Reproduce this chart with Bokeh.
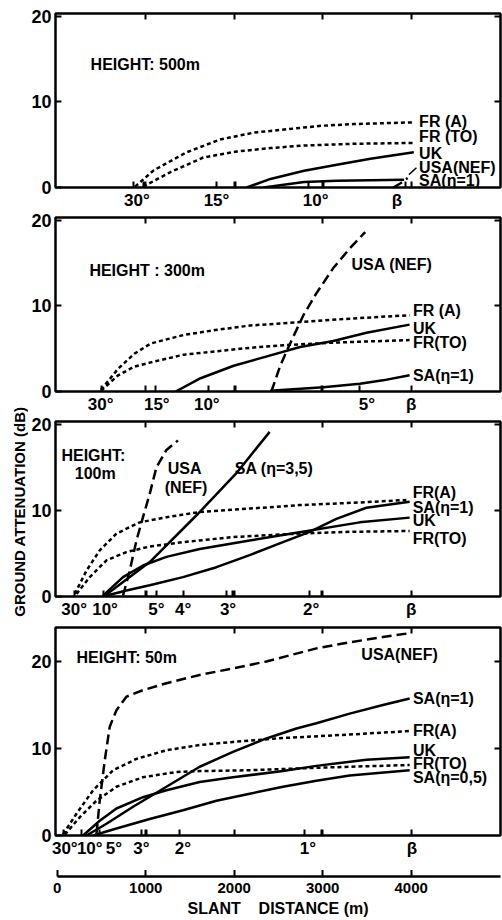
from bokeh.plotting import figure
from bokeh.models import Range1d, LinearAxis, FixedTicker, Label
from bokeh.layouts import column, row
from bokeh.embed import file_html
from bokeh.resources import INLINE

FONT = "Liberation Sans"

# ---------------- data (slant distance in m, ground attenuation in dB) ----------------
# Height 500 m
h500_fra_x = [880, 1090, 1460, 1840, 2220, 2600, 2980, 3350, 4030]
h500_fra_y = [0.1, 2.0, 4.1, 5.6, 6.4, 6.8, 7.2, 7.4, 7.6]
h500_frto_x = [970, 1280, 1650, 2030, 2410, 2790, 3350, 4030]
h500_frto_y = [0.1, 1.8, 3.5, 4.2, 4.6, 4.9, 5.1, 5.2]
h500_uk_x = [2140, 2410, 2790, 3160, 3540, 4030]
h500_uk_y = [0.0, 1.0, 1.95, 2.65, 3.35, 4.1]
h500_sa1_x = [2330, 2790, 3160, 3920]
h500_sa1_y = [0.0, 0.65, 0.8, 0.9]
h500_usa_x = [3800, 3880, 3960]
h500_usa_y = [0.0, 0.5, 1.1]

# Height 300 m
h300_fra_x = [495, 683, 870, 1057, 1432, 1807, 2182, 2745, 3307, 3982]
h300_fra_y = [0.2, 2.6, 4.4, 5.6, 6.6, 7.2, 7.7, 8.1, 8.5, 8.9]
h300_frto_x = [495, 683, 870, 1057, 1432, 1807, 2182, 2557, 3120, 3982]
h300_frto_y = [0.1, 1.85, 2.9, 3.4, 4.3, 4.7, 5.1, 5.4, 5.7, 6.0]
h300_uk_x = [1339, 1620, 1994, 2370, 2745, 3120, 3495, 3982]
h300_uk_y = [0.0, 1.55, 3.0, 4.1, 5.2, 5.9, 6.85, 7.8]
h300_sa1_x = [2407, 3007, 3420, 3682, 3982]
h300_sa1_y = [0.1, 0.5, 0.9, 1.3, 1.9]
h300_usa_x = [2420, 2520, 2632, 2782, 2932, 3120, 3307, 3480]
h300_usa_y = [0.0, 3.0, 5.6, 8.9, 11.5, 14.4, 16.7, 18.6]

# Height 100 m
h100_fra_x = [198, 330, 480, 669, 932, 1234, 1610, 2175, 2740, 3400, 3946]
h100_fra_y = [0.3, 3.0, 5.35, 7.3, 8.6, 9.2, 9.8, 10.2, 10.6, 10.9, 11.2]
h100_frto_x = [217, 367, 556, 782, 1045, 1421, 1986, 2740, 3300, 3983]
h100_frto_y = [0.3, 2.25, 4.2, 5.15, 5.8, 6.3, 6.9, 7.3, 7.5, 7.6]
h100_uk_x = [517, 743, 969, 1234, 1610, 2175, 2703, 3418, 3983]
h100_uk_y = [0.1, 2.25, 3.6, 4.6, 5.5, 6.5, 7.4, 8.6, 9.15]
h100_sa1_x = [517, 782, 1045, 1421, 1799, 2175, 2551, 2853, 3155, 3494, 3983]
h100_sa1_y = [0.0, 0.7, 1.3, 2.25, 3.4, 4.8, 6.3, 7.5, 9.0, 10.3, 11.0]
h100_sa35_x = [537, 1045, 1591, 2025, 2401]
h100_sa35_y = [0.1, 4.0, 9.6, 14.3, 19.1]
h100_usa_x = [743, 819, 895, 969, 1045, 1121, 1234, 1365]
h100_usa_y = [0.1, 3.0, 6.5, 9.2, 11.9, 15.0, 17.0, 18.1]

# Height 50 m
h50_usa_x = [443, 480, 537, 593, 669, 782, 969, 1234, 1610, 1986, 2364, 2703, 2929, 3305, 3681, 3983]
h50_usa_y = [0.2, 4.0, 8.65, 12.5, 14.4, 15.95, 16.7, 17.5, 18.45, 19.2, 20.0, 20.9, 21.5, 22.2, 22.8, 23.25]
h50_fra_x = [66, 217, 405, 631, 895, 1234, 1610, 1986, 2551, 3300, 3983]
h50_fra_y = [0.15, 2.5, 5.2, 7.5, 8.8, 9.8, 10.4, 10.75, 11.2, 11.6, 12.0]
h50_frto_x = [85, 254, 443, 669, 969, 1347, 1610, 2175, 2703, 3300, 3983]
h50_frto_y = [0.1, 2.1, 4.0, 5.6, 6.7, 7.3, 7.4, 7.5, 7.7, 7.9, 8.1]
h50_uk_x = [292, 480, 669, 969, 1234, 1610, 1986, 2551, 2929, 3494, 3983]
h50_uk_y = [0.0, 1.7, 3.1, 4.4, 5.2, 6.15, 6.7, 7.4, 8.0, 8.7, 9.0]
h50_sa1_x = [330, 556, 857, 1234, 1610, 1986, 2364, 2703, 2929, 3305, 3681, 3983]
h50_sa1_y = [0.0, 1.35, 3.3, 5.6, 7.9, 9.6, 11.15, 12.3, 12.9, 14.0, 15.0, 15.75]
h50_sa05_x = [405, 669, 1045, 1421, 1799, 2175, 2551, 2929, 3305, 3983]
h50_sa05_y = [0.0, 0.8, 1.9, 2.9, 4.0, 4.8, 5.6, 6.3, 6.9, 7.5]

# elevation-angle scales (positions in m along slant distance)
h500_angle_ticks = [861, 974, 1804, 2012, 2843, 3012, 3938]
h500_angle_pos = [900, 1800, 2920, 3840]
h500_angle_txt = ["30°", "15°", "10°", "β"]
h300_angle_ticks = [495, 1001, 1114, 1713, 2013, 2989, 3420, 4001]
h300_angle_pos = [490, 1125, 1690, 3500, 4000]
h300_angle_txt = ["30°", "15°", "10°", "5°", "β"]
h100_angle_ticks = [198, 517, 1008, 1121, 1422, 1912, 1986, 2853, 2985, 4009]
h100_angle_pos = [190, 540, 1121, 1422, 1930, 2870, 4000]
h100_angle_txt = ["30°", "10°", "5°", "4°", "3°", "2°", "β"]
h50_angle_ticks = [66, 273, 480, 951, 1008, 1384, 2006, 2797, 2985, 4009]
h50_angle_pos = [85, 367, 640, 951, 1421, 2834, 4009]
h50_angle_txt = ["30°", "10°", "5°", "3°", "2°", "1°", "β"]

# leader stroke from the "USA(NEF)" label to its curve (500 m panel)
h500_leader_x = [3975, 4060]
h500_leader_y = [1.5, 2.3]

distance_ticks = [0, 1000, 2000, 3000, 4000]
db_ticks = [0, 10, 20]

SOLID, SHORT, LONG = "solid", "4 3", "10 5"
X0, X1 = -20, 5010
LW = 2.5

# ---------------- helpers ----------------
def style_axis(ax, size="16px"):
    ax.axis_line_color = None
    ax.major_tick_line_color = "black"
    ax.major_tick_line_width = 2
    ax.minor_tick_line_color = "black"
    ax.minor_tick_line_width = 2
    ax.major_label_text_font = FONT
    ax.major_label_text_font_size = size
    ax.major_label_text_font_style = "bold"
    ax.major_label_text_color = "black"


def tick_only_axis(ticks):
    ax = LinearAxis(ticker=FixedTicker(ticks=ticks))
    ax.axis_line_color = None
    ax.major_tick_line_color = "black"
    ax.major_tick_line_width = 2
    ax.major_tick_in = 6
    ax.major_tick_out = 0
    ax.minor_tick_in = 0
    ax.minor_tick_out = 0
    ax.major_label_text_font_size = "1px"
    ax.major_label_text_color = None
    ax.major_label_standoff = 0
    return ax


def panel(height, top, bottom, y_end, curves, labels, a_ticks, a_pos, a_txt):
    p = figure(width=474, height=height, x_range=Range1d(X0, X1),
               y_range=Range1d(0, y_end), output_backend="svg",
               toolbar_location=None, min_border_left=27, min_border_right=2,
               min_border_top=top, min_border_bottom=bottom)
    p.grid.visible = False
    p.outline_line_color = "black"
    p.outline_line_width = 2.5
    p.outline_line_alpha = 1.0
    p.background_fill_color = "white"
    p.border_fill_color = "white"

    ya = p.yaxis[0]
    ya.ticker = FixedTicker(ticks=db_ticks)
    style_axis(ya, "18px")
    ya.major_tick_in = 6
    ya.major_tick_out = 0
    ya.minor_tick_in = 0
    ya.minor_tick_out = 0
    ya.major_label_standoff = 4

    xa = p.xaxis[0]
    xa.ticker = FixedTicker(ticks=a_pos, minor_ticks=a_ticks + [1000, 2000, 3000, 4000])
    xa.major_label_overrides = {v: t for v, t in zip(a_pos, a_txt)}
    style_axis(xa, "17px")
    xa.major_tick_in = 0
    xa.major_tick_out = 0
    xa.minor_tick_in = 6
    xa.minor_tick_out = 0
    xa.major_label_standoff = 3

    p.add_layout(tick_only_axis([1000, 2000, 3000, 4000]), "above")
    p.add_layout(tick_only_axis([10, 20]), "right")

    for x, y, dash in curves:
        p.line(x, y, line_color="black", line_width=LW, line_dash=dash)

    for x, y, t in labels:
        p.add_layout(Label(x=x, y=y, text=t, text_font=FONT, text_font_size="16px",
                           text_font_style="bold", text_color="black",
                           text_align="left", text_baseline="middle"))
    return p


p1 = panel(212, 13, 22, 20.3,
           [(h500_fra_x, h500_fra_y, SHORT), (h500_frto_x, h500_frto_y, SHORT),
            (h500_uk_x, h500_uk_y, SOLID), (h500_sa1_x, h500_sa1_y, SOLID),
            (h500_usa_x, h500_usa_y, LONG)],
           [(377, 14.3, "HEIGHT: 500m"), (4090, 7.7, "FR (A)"), (4090, 5.9, "FR (TO)"),
            (4090, 4.0, "UK"), (4090, 2.3, "USA(NEF)"), (4090, 0.85, "SA(η=1)")],
           h500_angle_ticks, h500_angle_pos, h500_angle_txt)
p1.line(h500_leader_x, h500_leader_y, line_color="black", line_width=1.5)

p2 = panel(204, 5, 22, 20.3,
           [(h300_fra_x, h300_fra_y, SHORT), (h300_frto_x, h300_frto_y, SHORT),
            (h300_uk_x, h300_uk_y, SOLID), (h300_sa1_x, h300_sa1_y, SOLID),
            (h300_usa_x, h300_usa_y, LONG)],
           [(363, 14.1, "HEIGHT : 300m"), (3326, 14.8, "USA (NEF)"), (4020, 9.4, "FR (A)"),
            (4020, 7.4, "UK"), (4020, 5.7, "FR(TO)"), (4020, 1.85, "SA(η=1)")],
           h300_angle_ticks, h300_angle_pos, h300_angle_txt)

p3 = panel(205, 5, 23, 20.3,
           [(h100_fra_x, h100_fra_y, SHORT), (h100_frto_x, h100_frto_y, SHORT),
            (h100_uk_x, h100_uk_y, SOLID), (h100_sa1_x, h100_sa1_y, SOLID),
            (h100_sa35_x, h100_sa35_y, SOLID), (h100_usa_x, h100_usa_y, LONG)],
           [(47, 16.4, "HEIGHT:"), (198, 14.3, "100m"), (1249, 14.9, "USA"),
            (1215, 12.6, "(NEF)"), (2006, 14.9, "SA (η=3,5)"), (4017, 12.1, "FR(A)"),
            (4017, 10.3, "SA(η=1)"), (4017, 8.8, "UK"), (4017, 6.7, "FR(TO)")],
           h100_angle_ticks, h100_angle_pos, h100_angle_txt)

p4 = panel(249, 6, 35, 23.9,
           [(h50_usa_x, h50_usa_y, LONG), (h50_fra_x, h50_fra_y, SHORT),
            (h50_frto_x, h50_frto_y, SHORT), (h50_uk_x, h50_uk_y, SOLID),
            (h50_sa1_x, h50_sa1_y, SOLID), (h50_sa05_x, h50_sa05_y, SOLID)],
           [(217, 20.4, "HEIGHT: 50m"), (3437, 20.8, "USA(NEF)"), (4020, 15.75, "SA(η=1)"),
            (4020, 12.1, "FR(A)"), (4020, 9.8, "UK"), (4020, 8.26, "FR(TO)"),
            (4020, 6.7, "SA(η=0,5)")],
           h50_angle_ticks, h50_angle_pos, h50_angle_txt)

# separate slant-distance scale under the 50 m panel
p5 = figure(width=474, height=49, x_range=Range1d(X0, X1), y_range=Range1d(0, 1),
            output_backend="svg", toolbar_location=None, x_axis_location=None,
            y_axis_location=None, min_border_left=27, min_border_right=2,
            min_border_top=0, min_border_bottom=0)
p5.grid.visible = False
p5.outline_line_color = None
p5.background_fill_color = "white"
p5.border_fill_color = "white"

dist_ax = LinearAxis(ticker=FixedTicker(ticks=distance_ticks), bounds=(0, X1),
                     axis_label="SLANT\u00a0\u00a0\u00a0\u00a0DISTANCE (m)")
dist_ax.axis_line_color = "black"
dist_ax.axis_line_width = 2.5
dist_ax.major_tick_line_color = "black"
dist_ax.major_tick_line_width = 2
dist_ax.major_tick_in = 7
dist_ax.major_tick_out = 0
dist_ax.minor_tick_in = 0
dist_ax.minor_tick_out = 0
dist_ax.major_label_text_font = FONT
dist_ax.major_label_text_font_size = "15px"
dist_ax.major_label_text_font_style = "bold"
dist_ax.major_label_text_color = "black"
dist_ax.major_label_standoff = 6
dist_ax.axis_label_text_font = FONT
dist_ax.axis_label_text_font_size = "16px"
dist_ax.axis_label_text_font_style = "bold"
dist_ax.axis_label_text_color = "black"
dist_ax.axis_label_standoff = 4
p5.add_layout(dist_ax, "below")

# y-axis title strip
TOTAL_H = 212 + 204 + 205 + 249 + 49
lab = figure(width=28, height=TOTAL_H, x_range=Range1d(0, 1), y_range=Range1d(0, 1),
             output_backend="svg", toolbar_location=None, x_axis_location=None,
             y_axis_location=None, min_border=0)
lab.grid.visible = False
lab.outline_line_color = None
lab.background_fill_color = "white"
lab.border_fill_color = "white"
lab.add_layout(Label(x=19, y=TOTAL_H - 509, x_units="screen", y_units="screen",
                     text="GROUND  ATTENUATION (dB)", angle=90, angle_units="deg",
                     text_font=FONT, text_font_size="15px", text_font_style="bold",
                     text_color="black", text_align="center", text_baseline="middle"))

layout = row(lab, column(p1, p2, p3, p4, p5))

open("out.html", "w").write(file_html(layout, INLINE))
